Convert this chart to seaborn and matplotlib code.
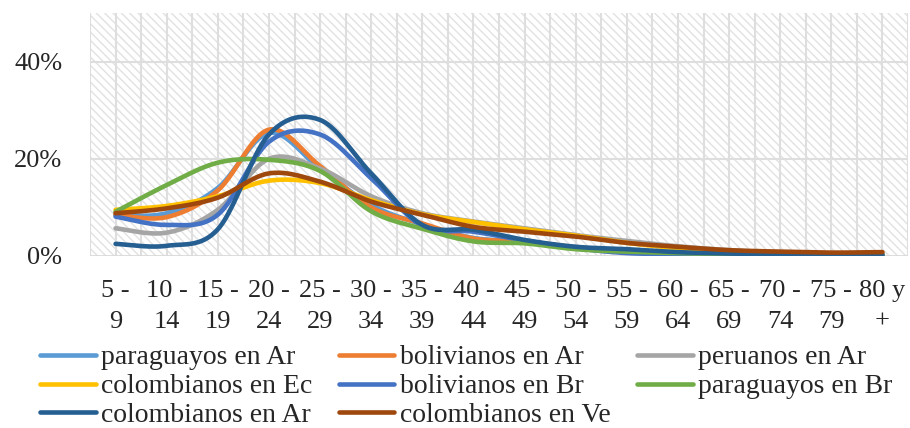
import numpy as np
import pandas as pd
import matplotlib
matplotlib.use('Agg')
import matplotlib.pyplot as plt
import seaborn as sns
from matplotlib.patches import Rectangle
from matplotlib.lines import Line2D
from matplotlib.ticker import FuncFormatter

# grupos de edad (eje x)
age_groups = ['5 -\n9', '10 -\n14', '15 -\n19', '20 -\n24', '25 -\n29', '30 -\n34',
              '35 -\n39', '40 -\n44', '45 -\n49', '50 -\n54', '55 -\n59', '60 -\n64',
              '65 -\n69', '70 -\n74', '75 -\n79', '80 y\n+']

# porcentajes por grupo de edad
paraguayos_ar = [8.4, 8.8, 14.0, 25.3, 18.0, 10.5, 6.5, 3.7, 3.0, 1.7, 1.0, 0.6, 0.4, 0.3, 0.2, 0.2]
bolivianos_ar = [8.5, 8.0, 13.5, 26.0, 18.5, 10.0, 6.7, 3.6, 3.0, 1.8, 1.1, 0.7, 0.5, 0.3, 0.2, 0.2]
peruanos_ar = [5.7, 4.8, 9.5, 20.0, 18.0, 12.3, 8.8, 7.1, 5.7, 4.3, 3.1, 2.0, 1.2, 0.7, 0.4, 0.3]
colombianos_ec = [9.5, 10.3, 12.3, 15.5, 15.0, 11.5, 8.6, 7.0, 5.5, 4.2, 2.7, 1.6, 0.9, 0.5, 0.3, 0.3]
bolivianos_br = [8.1, 6.4, 8.5, 23.5, 25.0, 16.0, 6.2, 5.0, 3.2, 1.6, 0.6, 0.4, 0.3, 0.2, 0.1, 0.1]
paraguayos_br = [9.1, 14.6, 19.2, 19.8, 17.5, 9.2, 5.6, 3.0, 2.6, 1.4, 0.9, 0.6, 0.4, 0.3, 0.2, 0.2]
colombianos_ar = [2.5, 2.1, 5.5, 25.0, 28.0, 17.0, 6.4, 5.4, 3.3, 1.9, 1.4, 0.8, 0.5, 0.4, 0.3, 0.3]
colombianos_ve = [8.8, 9.8, 12.0, 17.0, 15.3, 11.2, 8.5, 6.0, 5.0, 4.0, 2.7, 1.9, 1.2, 0.9, 0.7, 0.8]

series_names = ['paraguayos en Ar', 'bolivianos en Ar', 'peruanos en Ar', 'colombianos en Ec',
                'bolivianos en Br', 'paraguayos en Br', 'colombianos en Ar', 'colombianos en Ve']
series_values = [paraguayos_ar, bolivianos_ar, peruanos_ar, colombianos_ec,
                 bolivianos_br, paraguayos_br, colombianos_ar, colombianos_ve]
colors = ['#5B9BD5', '#ED7D31', '#A5A5A5', '#FFC000', '#4472C4', '#70AD47', '#255E91', '#9E480E']


def smooth(x, y, n=24):
    # curva suavizada tipo Excel (Bezier con puntos de control de Catmull-Rom)
    x = np.asarray(x, float)
    y = np.asarray(y, float)
    px = np.concatenate([[x[0]], x, [x[-1]]])
    py = np.concatenate([[y[0]], y, [y[-1]]])
    t = np.linspace(0, 1, n, endpoint=False)
    xs, ys = [], []
    for i in range(len(x) - 1):
        for p, out in ((px, xs), (py, ys)):
            p0, p1, p2, p3 = p[i], p[i + 1], p[i + 2], p[i + 3]
            c1 = p1 + (p2 - p0) / 6
            c2 = p2 - (p3 - p1) / 6
            out.extend((1 - t) ** 3 * p1 + 3 * (1 - t) ** 2 * t * c1 + 3 * (1 - t) * t ** 2 * c2 + t ** 3 * p2)
    xs.append(x[-1])
    ys.append(y[-1])
    return np.array(xs), np.array(ys)


rows = []
for name, vals in zip(series_names, series_values):
    sx, sy = smooth(range(len(age_groups)), np.array(vals) / 100)
    for a, b in zip(sx, sy):
        rows.append({'x': a, 'y': b, 'serie': name})
df = pd.DataFrame(rows)

sns.set_theme(style='white')
plt.rcParams['font.family'] = ['Liberation Serif', 'DejaVu Serif']
plt.rcParams['hatch.linewidth'] = 1.0

fig = plt.figure(figsize=(9.1, 4.28), dpi=100)
ax = fig.add_axes([90 / 910, (428 - 256) / 428, (908 - 90) / 910, (256 - 13) / 428])

# fondo rayado
ax.add_patch(Rectangle((0, 0), 1, 1, transform=ax.transAxes, fill=False,
                       hatch='\\\\\\\\', edgecolor='#e2e2e2', linewidth=0, zorder=0))

for xv in np.arange(-0.5, 16, 0.5):
    ax.axvline(xv, color='#dedede', lw=1.5, zorder=1)
for yv in [0.2, 0.4]:
    ax.axhline(yv, color='#dedede', lw=1.5, zorder=1)
ax.axhline(0, color='#d9d9d9', lw=2, zorder=1)

sns.lineplot(data=df, x='x', y='y', hue='serie', hue_order=series_names, palette=colors,
             sort=False, estimator=None, linewidth=3.3, ax=ax, legend=False, zorder=3)
for line in ax.get_lines():
    line.set_solid_capstyle('round')

ax.set_xlim(-0.5, 15.5)
ax.set_ylim(0, 0.5)
ax.set_xticks(range(len(age_groups)))
ax.set_xticklabels(age_groups, fontsize=19, linespacing=1.55)
ax.set_yticks([0, 0.2, 0.4])
ax.yaxis.set_major_formatter(FuncFormatter(lambda v, p: '{:.0f}%'.format(v * 100)))
ax.tick_params(axis='x', length=0, pad=17)
ax.tick_params(axis='y', length=0, pad=20, labelsize=19)
ax.set_xlabel('')
ax.set_ylabel('')
for s in ax.spines.values():
    s.set_visible(False)

# leyenda: 3 columnas, orden por filas
order = [0, 3, 6, 1, 4, 7, 2, 5]
handles = [Line2D([], [], color=colors[i], lw=3.3, solid_capstyle='round') for i in order]
labels = [series_names[i] for i in order]
fig.legend(handles, labels, ncol=3, loc='upper left', bbox_to_anchor=(40 / 910, (428 - 345) / 428),
           frameon=False, fontsize=20, handlelength=2.0, handletextpad=0.2,
           columnspacing=0.95, labelspacing=0.12, borderpad=0, borderaxespad=0)

fig.savefig('out.png', dpi=100)
